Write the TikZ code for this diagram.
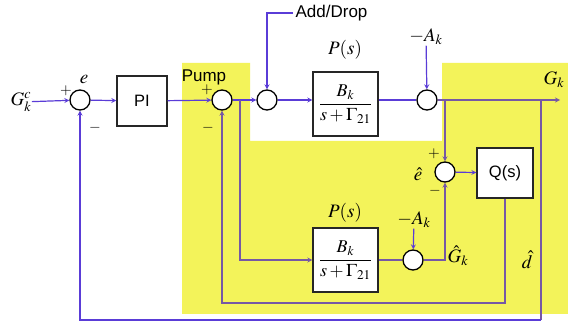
\documentclass[tikz,border=0pt]{standalone}
\usepackage{mathptmx}
\usepackage[no-math]{fontspec}
\setmainfont{Liberation Sans}
\usetikzlibrary{positioning}
\definecolor{sigblue}{RGB}{90,60,215}
\definecolor{fbpurple}{RGB}{118,88,165}
\definecolor{pumpyellow}{RGB}{243,243,90}

\begin{document}
\begin{tikzpicture}[x=1pt, y=-1pt, line width=1.2pt, >=stealth,
  blk/.style={draw=black!85, fill=white, line width=1.3pt, minimum width=50pt, minimum height=50pt, font=\fontsize{16.5}{18}\selectfont},
  pblk/.style={blk, minimum width=65pt, minimum height=64pt, inner sep=1pt, font=\fontsize{18}{20}\selectfont},
  sumc/.style={draw=black, circle, fill=white, minimum size=20pt, inner sep=0pt, line width=1.3pt},
  lbl/.style={inner sep=0pt, font=\fontsize{17}{19}\selectfont},
  mlbl/.style={inner sep=0pt, font=\fontsize{19}{21}\selectfont},
  sgn/.style={inner sep=0pt, font=\fontsize{15}{16}\selectfont},
  sig/.style={->, draw=sigblue, line width=1.2pt},
  fb/.style={draw=fbpurple, line width=1.2pt}]
  \useasboundingbox (0,0) rectangle (568,323);
  \fill[white] (0,0) rectangle (568,323);
  % pump region
  \fill[pumpyellow] (182,63) -- (250,63) -- (250,141) -- (442,141) -- (442,63) -- (568,63)
    -- (568,314) -- (182,314) -- cycle;

  % blocks and summing points
  \node[mlbl] (gc) at (21,102) {$G_k^c$};
  \node[sumc] (s1) at (80,100) {};
  \node[blk] (pi) at (142,101) {PI};
  \node[sumc] (s2) at (222,100) {};
  \node[sumc] (s3) at (267,100) {};
  \node[pblk] (p1) at (345.5,104) {$\displaystyle\frac{B_k}{s+\Gamma_{21}}$};
  \node[sumc] (s4) at (427,100) {};
  \node[sumc] (s5) at (445,172) {};
  \node[blk, minimum width=56pt] (q) at (505,173) {Q(s)};
  \node[pblk] (p2) at (345.5,260) {$\displaystyle\frac{B_k}{s+\Gamma_{21}}$};
  \node[sumc] (s6) at (413,260) {};

  % labels
  \node[mlbl] (ps1) at (345,50) {$P(s)$};
  \node[mlbl] (ps2) at (345,213) {$P(s)$};
  \node[mlbl] (ak1) at (426,37) {$-A_k$};
  \node[mlbl] (ak2) at (414,220) {$-A_k$};
  \node[lbl, anchor=west, inner sep=2pt] (add) at (293,13) {Add/Drop};
  \node[lbl] (pump) at (204,77) {Pump};
  \node[mlbl] (gk) at (554,80) {$G_k$};
  \node[mlbl] (e) at (84,79) {$e$};
  \node[mlbl] (ehat) at (418,174) {$\hat{e}$};
  \node[mlbl] (gkhat) at (458,256) {$\hat{G}_k$};
  \node[mlbl] (dhat) at (527,260) {$\hat{d}$};
  \node[sgn] (pl1) at (66,91) {$+$};
  \node[sgn] (mi1) at (95,128) {$-$};
  \node[sgn] (pl2) at (207,90) {$+$};
  \node[sgn] (mi2) at (208,128) {$-$};
  \node[sgn] (pl5) at (434,154) {$+$};
  \node[sgn] (mi5) at (435,191) {$-$};

  \coordinate (gend) at (560,100);
  \coordinate (br1) at (240,100);
  \coordinate (br2) at (541,100);
  \coordinate (low1) at (505,303);
  \coordinate (low2) at (541,320);

  % forward path
  \draw[sig] (gc) -- (s1);
  \draw[sig] (s1) -- (pi);
  \draw[sig] (pi) -- (s2);
  \draw[sig] (s2) -- (s3);
  \draw[sig] (s3.east) -- (s3.east -| p1.west);
  \draw[sig, -] (p1.east |- s4) -- (s4);
  \draw[fb, ->] (s4) -- (gend);
  \draw[sig] (add) -| (s3);
  \draw[sig] (ak1) -- (s4);
  % model and disturbance estimate
  \draw[fb, ->] (s5 |- s4) -- (s5);
  \draw[sig] (s5) -- (q);
  \draw[fb, ->] (q) -- (low1) -| (s2);
  \draw[fb, ->] (br1) |- (p2);
  \draw[fb] (p2) -- (s6);
  \draw[sig] (ak2) -- (s6);
  \draw[fb, ->] (s6) -| (s5);
  % outer loop
  \draw[fb] (br2) -- (low2);
  \draw[sig] (low2) -| (s1);
\end{tikzpicture}
\end{document}
